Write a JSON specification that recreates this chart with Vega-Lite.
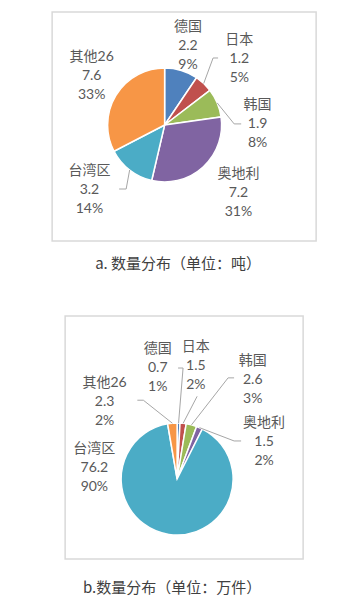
{
  "$schema": "https://vega.github.io/schema/vega-lite/v6.json",
  "background": "white",
  "padding": {"left": 51, "top": 11, "right": 0, "bottom": 0},
  "config": {
    "style": {"view": {"stroke": "#d9d9d9", "strokeWidth": 1.5}},
    "font": "Lato, 'Noto Sans CJK SC'"
  },
  "center": true,
  "spacing": 42,
  "vconcat": [
    {
      "width": 264,
      "height": 229,
      "view": {"stroke": "#d9d9d9", "strokeWidth": 1.5},
      "title": {"text": "a. 数量分布（单位：吨）", "orient": "bottom", "fontSize": 15, "fontWeight": "normal", "color": "#404040", "offset": 16, "dx": -6, "font": "'Noto Sans CJK SC'"},
      "data": {"values": [
        {"i": 0, "name": "德国", "value": 2.2, "pct": 9},
        {"i": 1, "name": "日本", "value": 1.2, "pct": 5},
        {"i": 2, "name": "韩国", "value": 1.9, "pct": 8},
        {"i": 3, "name": "奥地利", "value": 7.2, "pct": 31},
        {"i": 4, "name": "台湾区", "value": 3.2, "pct": 14},
        {"i": 5, "name": "其他26", "value": 7.6, "pct": 33}
      ]},
      "transform": [
        {"calculate": "[datum.name, format(datum.value, '.1f'), datum.pct + '%']", "as": "label"},
        {"joinaggregate": [{"op": "sum", "field": "value", "as": "total"}]},
        {"window": [{"op": "sum", "field": "value", "as": "cum"}], "sort": [{"field": "i", "order": "ascending"}], "frame": [null, 0]},
        {"calculate": "2*PI*(datum.cum - datum.value/2)/datum.total", "as": "ang"}
      ],
      "layer": [
        {
          "mark": {"type": "arc", "outerRadius": 57, "stroke": "white", "strokeWidth": 1.5, "xOffset": -19.5, "yOffset": -1.5},
          "encoding": {
            "theta": {"field": "value", "type": "quantitative", "stack": true},
            "order": {"field": "i", "type": "quantitative"},
            "color": {"field": "name", "type": "nominal", "legend": null,
              "scale": {"domain": ["德国", "日本", "韩国", "奥地利", "台湾区", "其他26"], "range": ["#4F81BD", "#C0504D", "#9BBB59", "#8064A2", "#4BACC6", "#F79646"]}}
          }
        },
        {
          "transform": [{"filter": "indexof([1, 2, 4], datum.i) >= 0"}],
          "mark": {"type": "rule", "stroke": "#a6a6a6", "strokeWidth": 1},
          "encoding": {
            "x": {"value": {"expr": "112.5 + 57*sin(datum.ang)"}},
            "y": {"value": {"expr": "113 - 57*cos(datum.ang)"}},
            "x2": {"value": {"expr": "112.5 + 57*sin(datum.ang) + [0, 9.4, 17, 0, -3.5, 0][datum.i]"}},
            "y2": {"value": {"expr": "113 - 57*cos(datum.ang) + [0, -25.5, 21, 0, 19, 0][datum.i]"}}
          }
        },
        {
          "transform": [{"filter": "indexof([1, 2, 4], datum.i) >= 0"}],
          "mark": {"type": "rule", "stroke": "#a6a6a6", "strokeWidth": 1},
          "encoding": {
            "x": {"value": {"expr": "112.5 + 57*sin(datum.ang) + [0, 9.4, 17, 0, -3.5, 0][datum.i]"}},
            "y": {"value": {"expr": "113 - 57*cos(datum.ang) + [0, -25.5, 21, 0, 19, 0][datum.i]"}},
            "x2": {"value": {"expr": "112.5 + 57*sin(datum.ang) + [0, 14.4, 24, 0, -10.5, 0][datum.i]"}},
            "y2": {"value": {"expr": "113 - 57*cos(datum.ang) + [0, -25.5, 21, 0, 19, 0][datum.i]"}}
          }
        },
        {
          "mark": {"type": "text", "radius": 90, "xOffset": -19.5, "yOffset": -1.5, "fontSize": 14, "lineHeight": 19, "fill": "#595959",
            "dx": {"expr": "[-3, 13, 10, 13, -20, 4][datum.i]"},
            "dy": {"expr": "[-12, -19, 15, -17, -25, -21][datum.i]"}},
          "encoding": {
            "theta": {"field": "value", "type": "quantitative", "stack": true},
            "order": {"field": "i", "type": "quantitative"},
            "detail": {"field": "name", "type": "nominal"},
            "text": {"field": "label", "type": "nominal"}
          }
        }
      ]
    },
    {
      "width": 238,
      "height": 243,
      "view": {"stroke": "#d9d9d9", "strokeWidth": 1.5},
      "title": {"text": "b.数量分布（单位：万件）", "orient": "bottom", "fontSize": 15, "fontWeight": "normal", "color": "#404040", "offset": 22, "dx": -12, "font": "'Noto Sans CJK SC'"},
      "data": {"values": [
        {"i": 0, "name": "德国", "value": 0.7, "pct": 1},
        {"i": 1, "name": "日本", "value": 1.5, "pct": 2},
        {"i": 2, "name": "韩国", "value": 2.6, "pct": 3},
        {"i": 3, "name": "奥地利", "value": 1.5, "pct": 2},
        {"i": 4, "name": "台湾区", "value": 76.2, "pct": 90},
        {"i": 5, "name": "其他26", "value": 2.3, "pct": 2}
      ]},
      "transform": [
        {"calculate": "[datum.name, format(datum.value, '.1f'), datum.pct + '%']", "as": "label"},
        {"joinaggregate": [{"op": "sum", "field": "value", "as": "total"}]},
        {"window": [{"op": "sum", "field": "value", "as": "cum"}], "sort": [{"field": "i", "order": "ascending"}], "frame": [null, 0]},
        {"calculate": "2*PI*(datum.cum - datum.value/2)/datum.total", "as": "ang"}
      ],
      "layer": [
        {
          "mark": {"type": "arc", "outerRadius": 56, "stroke": "white", "strokeWidth": 1.5, "xOffset": -7, "yOffset": 41.5},
          "encoding": {
            "theta": {"field": "value", "type": "quantitative", "stack": true},
            "order": {"field": "i", "type": "quantitative"},
            "color": {"field": "name", "type": "nominal", "legend": null,
              "scale": {"domain": ["德国", "日本", "韩国", "奥地利", "台湾区", "其他26"], "range": ["#4F81BD", "#C0504D", "#9BBB59", "#8064A2", "#4BACC6", "#F79646"]}}
          }
        },
        {
          "transform": [{"filter": "datum.i != 4"}],
          "mark": {"type": "rule", "stroke": "#a6a6a6", "strokeWidth": 1},
          "encoding": {
            "x": {"value": {"expr": "112 + 56*sin(datum.ang)"}},
            "y": {"value": {"expr": "163 - 56*cos(datum.ang)"}},
            "x2": {"value": {"expr": "112 + 56*sin(datum.ang) + [4.5, 14, 36.6, 34.6, 0, -29][datum.i]"}},
            "y2": {"value": {"expr": "163 - 56*cos(datum.ang) + [-55, -27, -47, 13.3, 0, -23][datum.i]"}}
          }
        },
        {
          "transform": [{"filter": "datum.i != 4 && datum.i != 1"}],
          "mark": {"type": "rule", "stroke": "#a6a6a6", "strokeWidth": 1},
          "encoding": {
            "x": {"value": {"expr": "112 + 56*sin(datum.ang) + [4.5, 14, 36.6, 34.6, 0, -29][datum.i]"}},
            "y": {"value": {"expr": "163 - 56*cos(datum.ang) + [-55, -27, -47, 13.3, 0, -23][datum.i]"}},
            "x2": {"value": {"expr": "112 + 56*sin(datum.ang) + [-0.5, 14, 42.6, 41.6, 0, -35][datum.i]"}},
            "y2": {"value": {"expr": "163 - 56*cos(datum.ang) + [-55, -27, -47, 13.3, 0, -23][datum.i]"}}
          }
        },
        {
          "mark": {"type": "text", "radius": 100, "xOffset": -7, "yOffset": 41.5, "fontSize": 14, "lineHeight": 19, "fill": "#595959",
            "dx": {"expr": "[-22, 8, 50, 47, -68, -64][datum.i]"},
            "dy": {"expr": "[-30, -33, -21, 36, -129, 4][datum.i]"}},
          "encoding": {
            "theta": {"field": "value", "type": "quantitative", "stack": true},
            "order": {"field": "i", "type": "quantitative"},
            "detail": {"field": "name", "type": "nominal"},
            "text": {"field": "label", "type": "nominal"}
          }
        }
      ]
    }
  ]
}
